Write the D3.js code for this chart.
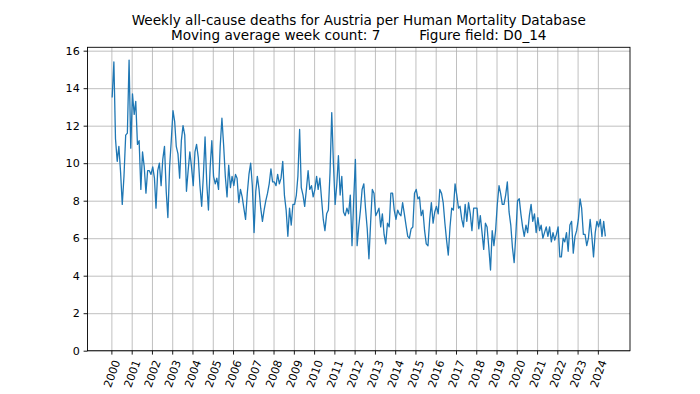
<!DOCTYPE html>
<html>
<head>
<meta charset="utf-8">
<script src="https://cdn.jsdelivr.net/npm/d3@7"></script>
<style>
body { margin: 0; background: white; }
text { font-family: "DejaVu Sans", sans-serif; fill: black; }
</style>
</head>
<body>
<div id="canvas"></div>
<script>
"use strict"

/* moving average values, one per month */
let deaths2000s = [
    13.5, 15.4, 11.3, 10.1, 10.9, 9.5, 7.8, 9.3, 11.5, 11.6, 15.5, 10.8,   // 2000
    13.7, 12.6, 13.3, 11.0, 11.2, 8.6, 10.6, 9.8, 8.4, 9.6, 9.6, 9.4,      // 2001
    9.8, 9.2, 7.6, 9.6, 10.0, 8.8, 10.2, 10.9, 8.5, 7.1, 9.8, 11.2,        // 2002
    12.8, 12.2, 10.9, 10.5, 9.2, 11.2, 12.0, 11.5, 8.5, 9.6, 10.6, 9.8,    // 2003
    8.8, 10.6, 11.0, 10.3, 8.8, 7.7, 9.3, 11.4, 8.9, 7.5, 9.8, 11.2,       // 2004
    9.3, 8.9, 9.2, 8.6, 10.9, 12.4, 11.0, 9.3, 8.2, 9.9, 8.7, 9.3,         // 2005
    8.8, 9.4, 9.2, 7.9, 8.6, 8.2, 7.6, 7.0, 8.4, 9.4, 10.0, 8.8,           // 2006
    6.3, 8.5, 9.3, 8.6, 7.6, 6.9, 7.5, 8.0, 8.4, 8.9, 9.7, 9.0,            // 2007
    9.0, 8.8, 9.4, 8.9, 9.2, 10.1, 8.3, 7.5, 6.1, 7.6, 6.7, 7.8,           // 2008
    7.8, 8.3, 9.3, 11.8, 8.7, 8.3, 7.7, 8.6, 9.6, 8.6, 8.8, 8.2            // 2009
];

let deaths2010s = [
    8.6, 9.3, 8.6, 9.2, 8.1, 7.0, 6.4, 7.3, 7.5, 9.5, 12.7, 10.0,          // 2010
    7.8, 8.9, 10.4, 8.3, 9.3, 7.4, 7.2, 7.6, 7.3, 8.3, 5.6, 8.0,           // 2011
    10.2, 5.6, 6.6, 7.5, 8.6, 8.9, 7.6, 6.5, 4.9, 6.8, 8.6, 8.4,           // 2012
    7.2, 7.4, 7.6, 6.6, 7.3, 6.2, 5.7, 6.8, 6.6, 8.4, 8.4, 7.5,            // 2013
    7.0, 7.5, 7.3, 7.2, 7.9, 7.3, 6.7, 6.1, 6.0, 6.5, 6.6, 8.4,            // 2014
    8.6, 8.1, 8.2, 7.2, 7.5, 6.4, 5.7, 5.6, 7.0, 7.9, 6.8, 7.4,            // 2015
    7.7, 7.3, 8.6, 8.4, 7.9, 6.8, 5.9, 5.1, 6.6, 7.6, 7.5, 8.9,            // 2016
    8.3, 7.6, 7.7, 7.0, 6.6, 7.8, 6.9, 7.9, 7.3, 6.4, 7.6, 7.6,            // 2017
    7.6, 6.5, 7.2, 6.3, 5.4, 6.8, 6.6, 5.5, 4.3, 6.4, 5.6, 6.4,            // 2018
    7.8, 8.8, 8.4, 7.8, 7.8, 8.3, 9.0, 7.4, 6.7, 5.5, 4.7, 6.2             // 2019
];

let deaths2020s = [
    8.0, 8.1, 7.3, 6.6, 6.1, 6.7, 6.3, 7.2, 7.8, 6.9, 7.3, 6.3,            // 2020
    7.1, 6.4, 6.7, 6.0, 6.3, 6.6, 6.1, 6.6, 5.8, 6.3, 5.9, 6.2,            // 2021
    6.6, 5.0, 5.0, 6.0, 5.8, 6.3, 5.3, 6.7, 6.9, 5.2, 6.1, 6.4,            // 2022
    7.0, 8.1, 7.6, 6.2, 6.2, 5.6, 6.0, 7.0, 6.1, 5.0, 6.3, 6.9,            // 2023
    6.6, 7.0, 6.1, 6.9, 6.1                                                // 2024
];

let yearTicks = [2000, 2001, 2002, 2003, 2004, 2005, 2006, 2007, 2008, 2009,
                 2010, 2011, 2012, 2013, 2014, 2015, 2016, 2017, 2018, 2019,
                 2020, 2021, 2022, 2023, 2024];
let yTicks = [0, 2, 4, 6, 8, 10, 12, 14, 16];

let titleLine1 = "Weekly all-cause deaths for Austria per Human Mortality Database";
let titleLine2 = "Moving average week count: 7         Figure field: D0_14";

let deaths = deaths2000s.concat(deaths2010s, deaths2020s);
let points = deaths.map((v, i) => ({ date: new Date(2000, i, 15), value: v }));

/* plot box, same fractions as a default matplotlib figure */
let plotLeft = 87.5, plotRight = 630, plotTop = 47.3, plotBottom = 350.7;
let tickLen = 3.9;
let tickFont = 11.1;

let drawing = d3.select("#canvas")
    .append("svg")
    .attr("width", 700)
    .attr("height", 394);

// x domain gets 5% padding each side, like matplotlib autoscale
let ext = d3.extent(points, d => d.date.getTime());
let pad = (ext[1] - ext[0]) * 0.05;
let x = d3.scaleTime()
    .domain([new Date(ext[0] - pad), new Date(ext[1] + pad)])
    .range([plotLeft, plotRight]);

let y = d3.scaleLinear()
    .domain([0, 16.18])
    .range([plotBottom, plotTop]);

let yearDates = yearTicks.map(yr => new Date(yr, 0, 1));

/* grid */
let xGrid = drawing.append("g")
    .attr("transform", "translate(0," + plotBottom + ")")
    .call(d3.axisBottom(x).tickValues(yearDates).tickSize(-(plotBottom - plotTop)).tickFormat(""));
xGrid.select(".domain").remove();
xGrid.selectAll("line").attr("stroke", "#b0b0b0").attr("stroke-width", 0.8);

let yGrid = drawing.append("g")
    .attr("transform", "translate(" + plotLeft + ",0)")
    .call(d3.axisLeft(y).tickValues(yTicks).tickSize(-(plotRight - plotLeft)).tickFormat(""));
yGrid.select(".domain").remove();
yGrid.selectAll("line").attr("stroke", "#b0b0b0").attr("stroke-width", 0.8);

/* the data line */
let line = d3.line()
    .x(d => x(d.date))
    .y(d => y(d.value));

drawing.append("path")
    .datum(points)
    .attr("d", line)
    .attr("fill", "none")
    .attr("stroke", "#1f77b4")
    .attr("stroke-width", 1.3)
    .attr("stroke-linejoin", "round");

/* spines */
drawing.append("rect")
    .attr("x", plotLeft)
    .attr("y", plotTop)
    .attr("width", plotRight - plotLeft)
    .attr("height", plotBottom - plotTop)
    .attr("fill", "none")
    .attr("stroke", "black")
    .attr("stroke-width", 0.9);

/* axes with ticks and labels */
let xAxis = drawing.append("g")
    .attr("transform", "translate(0," + plotBottom + ")")
    .call(d3.axisBottom(x).tickValues(yearDates).tickSize(tickLen).tickSizeOuter(0)
        .tickFormat(d3.timeFormat("%Y")));
xAxis.select(".domain").remove();
xAxis.selectAll("line").attr("stroke", "black").attr("stroke-width", 0.9);
xAxis.selectAll("text")
    .attr("font-size", tickFont)
    .attr("font-family", "DejaVu Sans")
    .attr("text-anchor", "middle")
    .attr("y", 0)
    .attr("dy", "0.35em")
    .attr("transform", "translate(0,23) rotate(-70)");

let yAxis = drawing.append("g")
    .attr("transform", "translate(" + plotLeft + ",0)")
    .call(d3.axisLeft(y).tickValues(yTicks).tickSize(tickLen).tickPadding(3.9).tickSizeOuter(0));
yAxis.select(".domain").remove();
yAxis.selectAll("line").attr("stroke", "black").attr("stroke-width", 0.9);
yAxis.selectAll("text")
    .attr("font-size", tickFont)
    .attr("font-family", "DejaVu Sans");

/* title, two lines */
let cx = (plotLeft + plotRight) / 2;
drawing.append("text")
    .attr("x", cx)
    .attr("y", 24.5)
    .attr("text-anchor", "middle")
    .attr("font-size", 13.6)
    .text(titleLine1);

drawing.append("text")
    .attr("x", cx)
    .attr("y", 39.5)
    .attr("text-anchor", "middle")
    .attr("font-size", 13.6)
    .style("white-space", "pre")
    .text(titleLine2);
</script>
</body>
</html>
